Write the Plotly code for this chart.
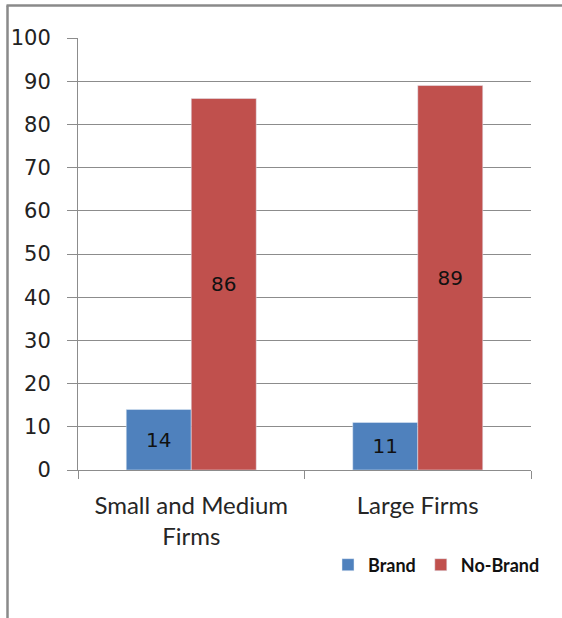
import plotly.graph_objects as go

categories = ["Small and Medium<br>Firms", "Large Firms"]
brand = [14, 11]
no_brand = [86, 89]
y_ticks = [0, 10, 20, 30, 40, 50, 60, 70, 80, 90, 100]

W, H = 562, 618
L, R, T, B = 78, 31, 38, 148
pw, ph = W - L - R, H - T - B

def px_x(p):
    return (p - L) / pw

def px_y(p):
    return (H - B - p) / ph

label_font = dict(family="DejaVu Sans", size=20, color="#111111")

fig = go.Figure()
fig.add_trace(go.Bar(
    name="Brand", x=categories, y=brand, marker_color="#4F81BD",
    text=brand, textposition="inside", insidetextanchor="middle",
    textfont=label_font,
))
fig.add_trace(go.Bar(
    name="No-Brand", x=categories, y=no_brand, marker_color="#C0504D",
    text=no_brand, textposition="inside", insidetextanchor="middle",
    textfont=label_font,
))

grey = "#8c8c8c"
fig.update_layout(
    width=W, height=H,
    margin=dict(l=L, r=R, t=T, b=B),
    paper_bgcolor="white", plot_bgcolor="white",
    barmode="group", bargap=0.426, bargroupgap=0,
    showlegend=True,
    legend=dict(orientation="h", x=px_x(328), y=px_y(565), xanchor="left", yanchor="middle",
                font=dict(family="Lato", size=18, color="#111111", weight="bold"),
                itemwidth=30, traceorder="normal"),
    xaxis=dict(showline=True, linecolor=grey, linewidth=1, ticks="outside", tickson="boundaries",
               ticklen=8, tickcolor=grey, ticklabelstandoff=14,
               tickfont=dict(family="Lato", size=24, color="#262626")),
    yaxis=dict(range=[0, 100], tickvals=y_ticks, showgrid=True, gridcolor=grey, gridwidth=1,
               showline=True, linecolor=grey, linewidth=1, ticks="outside", ticklen=10, tickcolor=grey,
               ticklabelstandoff=12, zeroline=False,
               tickfont=dict(family="DejaVu Sans", size=21, color="#222222")),
    font=dict(family="Lato"),
)

# outer frame of the chart (left and top edges)
fig.add_shape(type="line", xref="paper", yref="paper",
              x0=px_x(7.5), x1=px_x(7.5), y0=px_y(625), y1=px_y(5.5),
              line=dict(color="#8a8a8a", width=2.5))
fig.add_shape(type="line", xref="paper", yref="paper",
              x0=px_x(6.5), x1=px_x(570), y0=px_y(5.5), y1=px_y(5.5),
              line=dict(color="#8a8a8a", width=2.5))

fig.write_html("out.html", config={"displayModeBar": False},
               post_script="document.body.style.margin='0';")
